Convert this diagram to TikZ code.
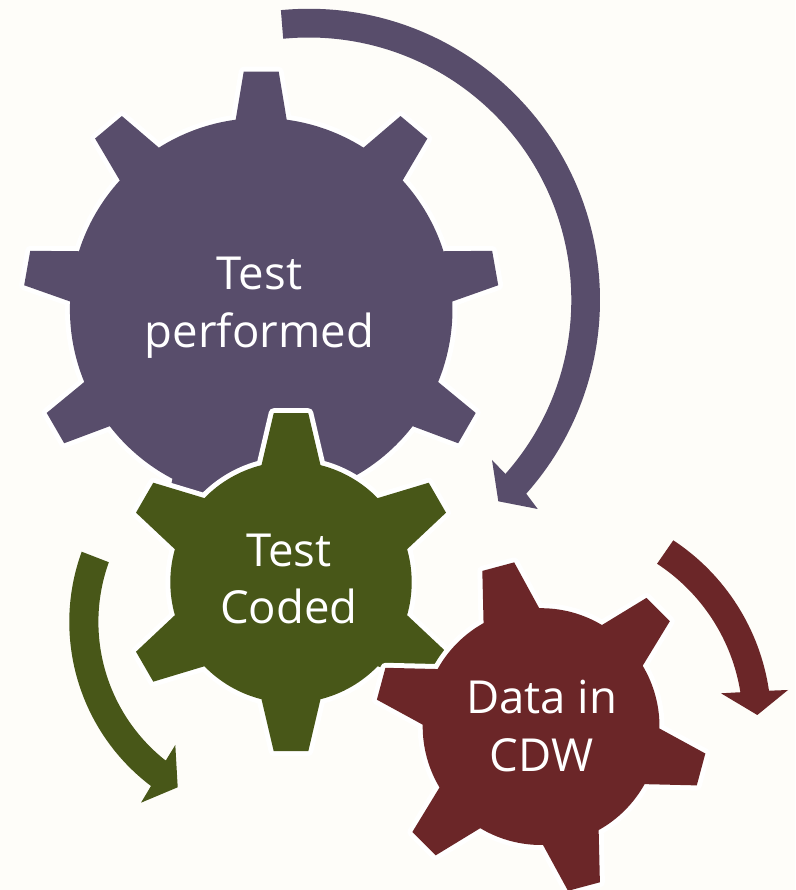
\documentclass[tikz,border=0pt]{standalone}
\usepackage{fontspec}
\setmainfont{Open Sans}
\definecolor{bgc}{HTML}{FEFDF9}
\definecolor{purplec}{HTML}{584D6B}
\definecolor{greenc}{HTML}{485718}
\definecolor{redc}{HTML}{6B2628}
\tikzset{
  gearbody/.style={fill=#1,preaction={draw=white,line width=10pt,line join=round}},
  turnarrow/.style={fill=#1},
  gearlabel/.style={text=white,inner sep=0pt,align=center,font=\fontsize{45.5}{57.7}\selectfont}
}
% centre x, centre y (from the top), body radius, tip radius, tip half width, root half width, teeth, start angle, colour
\newcommand\gearshape[9]{%
  \pgfmathsetmacro\gra{asin(#6/#3)}%
  \pgfmathsetmacro\gta{atan(#5/#4)}%
  \pgfmathsetmacro\gtr{veclen(#4,#5)}%
  \pgfmathsetmacro\gst{360/#7}%
  \pgfmathtruncatemacro\gnm{#7-1}%
  \pgfmathsetmacro\gsa{#8-\gra}%
  \begin{scope}[shift={(#1,{890-#2})}]
    \path[gearbody=#9] (\gsa:#3)
      foreach \k [evaluate=\k as \a using #8+\k*\gst] in {0,...,\gnm} {
        -- ({\a-\gra}:#3) -- ({\a-\gta}:\gtr) -- ({\a+\gta}:\gtr) -- ({\a+\gra}:#3)
        arc[start angle=\a+\gra,delta angle=\gst-2*\gra,radius=#3 pt]
      } -- cycle;
  \end{scope}}
\begin{document}
\begin{tikzpicture}[x=1pt,y=1pt]
  \useasboundingbox (0,0) rectangle (795,890);
  \fill[bgc] (0,0) rectangle (795,890);
  % purple arrow
  \path[turnarrow=purplec] ([shift={(308.8,590)}]95.5:291.2)
    arc[start angle=95.5,end angle=-41.7,radius=291.2pt]
    -- (537.7,{890-509}) -- (498.3,{890-501.3}) -- (492,{890-460})
    -- ([shift={(308.8,590)}]-41.5:262.5)
    arc[start angle=-41.5,end angle=95.6,radius=262.5pt] -- cycle;
  % green arrow
  \path[turnarrow=greenc] ([shift={(274.8,268)}]160:205.5)
    arc[start angle=160,end angle=232.95,radius=205.5pt]
    -- (141,{890-802.7}) -- (177.7,{890-787.3}) -- (175.3,{890-745})
    -- ([shift={(274.8,268)}]231.8:176.4)
    arc[start angle=231.8,end angle=160.2,radius=176.4pt] -- cycle;
  % red arrow
  \path[turnarrow=redc] ([shift={(553.3,167.7)}]56.6:218)
    arc[start angle=56.6,end angle=8.33,radius=218pt]
    -- (788,{890-690}) -- (757.3,{890-715}) -- (721,{890-693.3})
    -- ([shift={(553.3,167.7)}]9.13:189.5)
    arc[start angle=9.13,end angle=56.8,radius=189.5pt] -- cycle;
  % gears
  \gearshape{261.2}{309.3}{191.3}{237.6}{17.5}{25.5}{9}{90}{purplec}
  \gearshape{291}{582.2}{120.7}{169}{17.3}{29.5}{6}{90}{greenc}
  \gearshape{541.1}{726.6}{118.4}{165.6}{16.5}{28.8}{6}{105}{redc}
  % labels
  \node[gearlabel] (performed) at (259.5,{890-308}) {Test\\performed};
  \node[gearlabel] (coded) at (288.8,{890-579}) {Test\\Coded};
  \node[gearlabel] (cdw) at (541.7,{890-726}) {Data in\\CDW};
\end{tikzpicture}
\end{document}
